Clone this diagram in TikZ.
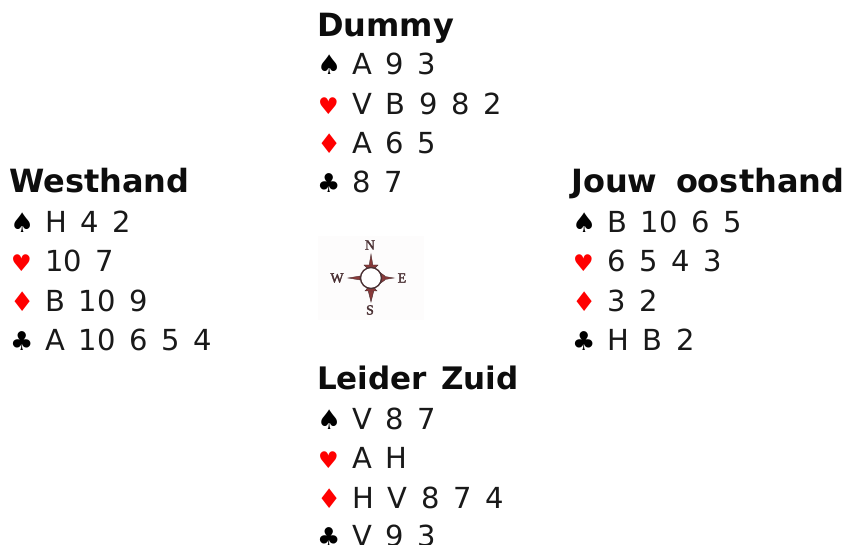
\documentclass[tikz,border=0pt]{standalone}
\usepackage{fontspec}
\setmainfont{DejaVu Sans}
\newfontfamily\compassfont{Liberation Serif}[FakeBold=2]
\definecolor{compassred}{HTML}{8A3A3A}
\definecolor{compassdark}{HTML}{4A3033}
\definecolor{compassbg}{HTML}{FDFCFC}
\tikzset{
  x=1pt,y=-1pt,
  titletext/.style={anchor=base west,inner sep=0pt,font=\fontsize{32}{32}\selectfont\bfseries,text=black!95},
  ranktext/.style={anchor=base west,inner sep=0pt,font=\fontsize{29}{29}\selectfont,text=black!90},
  spadesuit/.style={anchor=base west,inner sep=0pt,font=\fontsize{27}{27}\selectfont,text=black},
  heartsuit/.style={anchor=base west,inner sep=0pt,xshift=1pt,font=\fontsize{23}{23}\selectfont,text=red},
  diamondsuit/.style={anchor=base west,inner sep=0pt,font=\fontsize{27}{27}\selectfont,text=red},
  clubsuit/.style={anchor=base west,inner sep=0pt,font=\fontsize{26}{26}\selectfont,text=black},
  compassletter/.style={inner sep=0pt,font=\fontsize{14}{14}\compassfont,text=compassdark},
  compassspike/.style={fill=compassred,draw=compassdark,line width=0.4pt},
  compassring/.style={draw=compassdark,line width=1.4pt,fill=white}
}
\newcommand{\handrow}[6]{%
  \node[#4] (#1s) at (#2,#3) {#5};
  \node[ranktext] (#1r) at (#2+35,#3) {\spaceskip=0.47em #6};
}
\begin{document}
\begin{tikzpicture}
\useasboundingbox (0,0) rectangle (844,545);
% North
\node[titletext] (dummy) at (317,37) {Dummy};
\handrow{na}{317}{75}{spadesuit}{♠}{A 9 3}
\handrow{nb}{317}{115}{heartsuit}{♥}{V B 9 8 2}
\handrow{nc}{317}{154}{diamondsuit}{♦}{A 6 5}
\handrow{nd}{317}{193}{clubsuit}{♣}{8 7}
% West
\node[titletext] (west) at (9,193) {Westhand};
\handrow{wa}{10}{233}{spadesuit}{♠}{H 4 2}
\handrow{wb}{10}{272}{heartsuit}{♥}{10 7}
\handrow{wc}{10}{312}{diamondsuit}{♦}{B 10 9}
\handrow{wd}{10}{351}{clubsuit}{♣}{A 10 6 5 4}
% East
\node[titletext] (east) at (571,193) {\spaceskip=0.58em Jouw oosthand};
\handrow{ea}{572}{233}{spadesuit}{♠}{B 10 6 5}
\handrow{eb}{572}{272}{heartsuit}{♥}{6 5 4 3}
\handrow{ec}{572}{312}{diamondsuit}{♦}{3 2}
\handrow{ed}{572}{351}{clubsuit}{♣}{H B 2}
% South
\node[titletext,font=\fontsize{31}{31}\selectfont\bfseries] (south) at (317,390) {\spaceskip=0.45em Leider Zuid};
\handrow{sa}{317}{429}{spadesuit}{♠}{V 8 7}
\handrow{sb}{317}{468}{heartsuit}{♥}{A H}
\handrow{sc}{317}{508}{diamondsuit}{♦}{H V 8 7 4}
\handrow{sd}{317}{546}{clubsuit}{♣}{V 9 3}
% Compass
\fill[compassbg] (318,236) rectangle (424,320);
\coordinate (c) at (371,278);
\fill[compassspike] (371,254) -- (373,266) -- (369,266) -- cycle;
\fill[compassspike] (371,302) -- (374,290) -- (368,290) -- cycle;
\fill[compassspike] (348,278) -- (360,276) -- (360,280) -- cycle;
\fill[compassspike] (394,278) -- (382,276) -- (382,280) -- cycle;
\fill[compassspike] (364,265) -- (378,265) -- (371,272) -- cycle;
\fill[compassspike] (365,291) -- (377,291) -- (371,284) -- cycle;
\fill[compassspike] (378,271) -- (385,276) -- (385,280) -- (378,285) -- cycle;
\node[circle,compassring,minimum size=21pt,inner sep=0pt] (ring) at (c) {};
\node[compassletter] (cn) at (370,245) {N};
\node[compassletter] (cs) at (370,310) {S};
\node[compassletter] (cw) at (337,278) {W};
\node[compassletter] (ce) at (402,278) {E};
\end{tikzpicture}
\end{document}
